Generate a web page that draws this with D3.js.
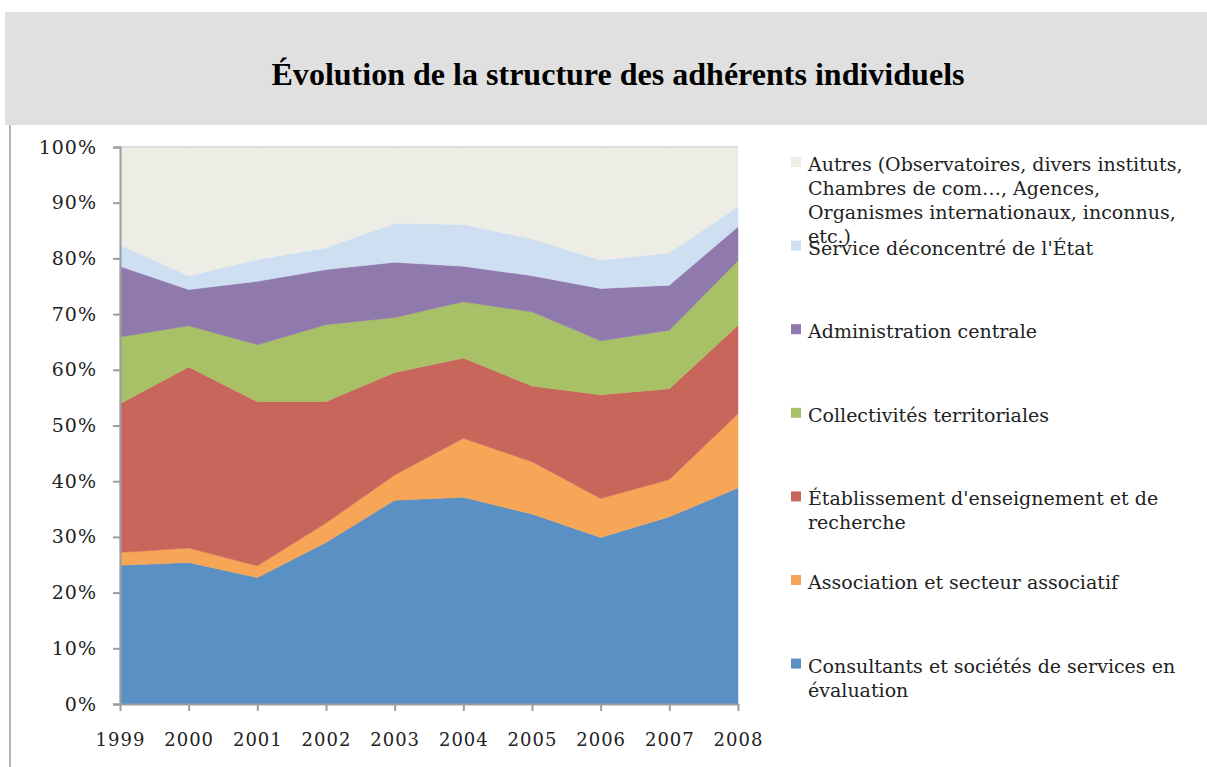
<!DOCTYPE html>
<html>
<head>
<meta charset="utf-8">
<script src="https://cdn.jsdelivr.net/npm/d3@7"></script>
<style>
  body { margin: 0; background: #fff; }
  svg { display: block; }
</style>
</head>
<body>
<svg id="chart"></svg>
<script>
// Years on the x axis
var years = ["1999", "2000", "2001", "2002", "2003", "2004", "2005", "2006", "2007", "2008"];

// Shares (%) per category
var consultants    = [24.9, 25.4, 22.7, 29.0, 36.6, 37.1, 34.1, 29.9, 33.6, 38.8];
var association    = [2.3, 2.6, 2.1, 3.5, 4.5, 10.6, 9.4, 7.0, 6.7, 13.3];
var etablissement  = [26.7, 32.5, 29.5, 21.8, 18.4, 14.4, 13.6, 18.6, 16.3, 15.9];
var collectivites  = [12.0, 7.4, 10.2, 13.8, 9.9, 10.1, 13.3, 9.7, 10.5, 11.6];
var administration = [12.7, 6.5, 11.4, 9.9, 9.9, 6.4, 6.5, 9.4, 8.1, 6.1];
var service        = [3.8, 2.5, 3.9, 3.9, 7.0, 7.5, 6.6, 5.1, 5.8, 3.6];
var autres         = [17.6, 23.1, 20.2, 18.1, 13.7, 13.9, 16.5, 20.3, 19.0, 10.7];

var seriesKeys = ["consultants", "association", "etablissement", "collectivites", "administration", "service", "autres"];
var seriesLabels = [
    ["Consultants et sociétés de services en", "évaluation"],
    ["Association et secteur associatif"],
    ["Établissement d'enseignement et de", "recherche"],
    ["Collectivités territoriales"],
    ["Administration centrale"],
    ["Service déconcentré de l'État"],
    ["Autres (Observatoires, divers instituts,", "Chambres de com…, Agences,", "Organismes internationaux, inconnus,", "etc.)"]
];
var yTicks = [0, 10, 20, 30, 40, 50, 60, 70, 80, 90, 100];

var colors = ["#5b90c4", "#f6a656", "#c9665c", "#a9c166", "#9079ad", "#cddff1", "#eeede5"];

// Build the table for d3.stack
var seriesValues = [consultants, association, etablissement, collectivites, administration, service, autres];
var table = years.map(function(y, i) {
    var row = { year: y };
    seriesKeys.forEach(function(k, j) { row[k] = seriesValues[j][i]; });
    return row;
});

var width = 1207, height = 767;
var svg = d3.select("#chart").attr("width", width).attr("height", height);

// Title band
svg.append("rect")
    .attr("x", 5).attr("y", 12)
    .attr("width", width - 5).attr("height", 113)
    .attr("fill", "#e0e0e0");

svg.append("text")
    .attr("x", 618).attr("y", 85)
    .attr("text-anchor", "middle")
    .attr("font-family", "Liberation Serif, Times New Roman, serif")
    .attr("font-weight", "bold")
    .attr("font-size", 31)
    .attr("textLength", 693)
    .attr("lengthAdjust", "spacingAndGlyphs")
    .attr("fill", "#000")
    .text("Évolution de la structure des adhérents individuels");

// Left frame line
svg.append("line")
    .attr("x1", 10).attr("x2", 10)
    .attr("y1", 125).attr("y2", height)
    .attr("stroke", "#b4b4b4").attr("stroke-width", 2);

// Scales
var x = d3.scalePoint().domain(years).range([120, 738]);
var y = d3.scaleLinear().domain([0, 100]).range([704, 147]);

var stack = d3.stack().keys(seriesKeys);
var layers = stack(table);

var area = d3.area()
    .x(function(d) { return x(d.data.year); })
    .y0(function(d) { return y(d[0]); })
    .y1(function(d) { return y(d[1]); });

svg.append("g").selectAll("path")
    .data(layers)
    .enter().append("path")
    .attr("d", area)
    .attr("fill", function(d, i) { return colors[i]; })
    .attr("stroke", function(d, i) { return colors[i]; })
    .attr("stroke-width", 0.5);

// Top edge of plot area
svg.append("line")
    .attr("x1", 120).attr("x2", 738)
    .attr("y1", 147).attr("y2", 147)
    .attr("stroke", "#d9d9d9").attr("stroke-width", 1.5);

// Y axis
var yAxis = svg.append("g")
    .attr("transform", "translate(120,0)")
    .call(d3.axisLeft(y).tickValues(yTicks).tickSize(7).tickPadding(16)
        .tickFormat(function(d) { return d + "%"; }));

// X axis
var xAxis = svg.append("g")
    .attr("transform", "translate(0,704)")
    .call(d3.axisBottom(x).tickSizeInner(7).tickSizeOuter(0).tickPadding(22));

[yAxis, xAxis].forEach(function(ax) {
    ax.select(".domain").attr("stroke", "#9d9d9d").attr("stroke-width", 2);
    ax.selectAll(".tick line").attr("stroke", "#9d9d9d").attr("stroke-width", 2);
    ax.selectAll(".tick text")
        .attr("fill", "#222")
        .attr("font-family", "DejaVu Serif, serif")
        .attr("letter-spacing", 1);
});
yAxis.selectAll(".tick text").attr("font-size", 19);
xAxis.selectAll(".tick text").attr("font-size", 18);

// Legend, top entry first
var legendTop = 162, legendStep = 83.6;
var legend = svg.append("g");
var order = d3.range(seriesKeys.length).reverse();

order.forEach(function(si, k) {
    var cy = legendTop + k * legendStep;
    legend.append("rect")
        .attr("x", 791).attr("y", cy - 5)
        .attr("width", 10).attr("height", 10)
        .attr("fill", colors[si]);
    var t = legend.append("text")
        .attr("x", 808).attr("y", cy + 9)
        .attr("font-family", "DejaVu Serif, serif")
        .attr("font-size", 19)
        .attr("fill", "#222");
    seriesLabels[si].forEach(function(line, li) {
        t.append("tspan")
            .attr("x", 808)
            .attr("dy", li === 0 ? 0 : 24)
            .text(line);
    });
});
</script>
</body>
</html>
